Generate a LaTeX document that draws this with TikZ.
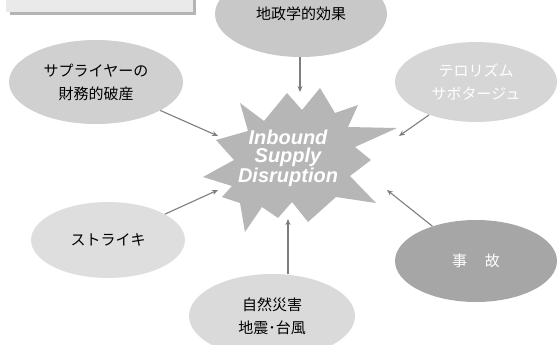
\documentclass[tikz,border=0pt]{standalone}
\usepackage{fontspec}
\setmainfont{Liberation Sans}
\newfontfamily\jp{Noto Sans CJK JP}
\usetikzlibrary{arrows.meta,shapes.geometric}
\definecolor{geoC}{HTML}{C8C8C8}
\definecolor{supC}{HTML}{D0D0D0}
\definecolor{terC}{HTML}{D6D6D6}
\definecolor{strC}{HTML}{DEDEDE}
\definecolor{natC}{HTML}{DADADA}
\definecolor{accC}{HTML}{A6A6A6}
\definecolor{starC}{HTML}{B6B6B6}
\definecolor{arrC}{HTML}{7E7E7E}
\definecolor{boxC}{HTML}{EAEAEA}
\definecolor{shadC}{HTML}{B4B4B4}
\tikzset{
  bubble/.style={ellipse, inner sep=0pt, align=center,
    font=\jp\fontsize{15}{23}\selectfont},
  arr/.style={draw=arrC, line width=1.1pt, -{Stealth[length=6pt,width=5pt]}},
}
\begin{document}
\begin{tikzpicture}[x=1pt,y=-1pt]
\useasboundingbox (0,0) rectangle (557,345);
\clip (0,0) rectangle (557,345);
% top-left box
\fill[shadC] (10,-5) rectangle (196,15);
\fill[boxC] (6,-5) rectangle (193,12.5);
% ellipses
\node[bubble, fill=geoC, minimum width=172pt, minimum height=86pt] (geo) at (301,14) {地政学的効果};
\node[bubble, fill=supC, minimum width=174pt, minimum height=84pt] (sup) at (96,82) {サプライヤーの\\財務的破産};
\node[bubble, fill=terC, minimum width=162pt, minimum height=80pt, text=white] (ter) at (476,82) {テロリズム\\サボタージュ};
\node[bubble, fill=strC, minimum width=154pt, minimum height=76pt] (str) at (108,240) {ストライキ};
\node[bubble, fill=natC, minimum width=166pt, minimum height=84pt] (nat) at (272,316) {自然災害\\地震･台風};
\node[bubble, fill=accC, minimum width=162pt, minimum height=82pt, text=white] (acc) at (476,261) {事\hspace{1.2em}故};
% star
\fill[starC] (287,93) -- (302,110) -- (320,88) -- (335,113) -- (358,105) -- (348,127)
  -- (397,128) -- (355,147) -- (371,160) -- (350,176) -- (376,203) -- (336,197)
  -- (308,222) -- (292,202) -- (278,218) -- (262,207) -- (245,232) -- (240,203)
  -- (222,197) -- (232,186) -- (203,177) -- (234,160) -- (216,140) -- (248,131)
  -- (240,103) -- (264,121) -- cycle;
\node[align=center, text=white, font=\bfseries\itshape\fontsize{20}{18.5}\selectfont, inner sep=0pt] (star) at (288,158) {Inbound\\Supply\\Disruption};
% arrow end points
\coordinate (eGeo) at (300,92);
\coordinate (eSup) at (218,136);
\coordinate (eTer) at (399,136);
\coordinate (eStr) at (218,190);
\coordinate (eNat) at (288,219);
\coordinate (eAcc) at (387,190);
% connectors
\draw[arr] (geo.south -| eGeo) -- (eGeo);
\draw[arr] (sup) -- (eSup);
\draw[arr] (ter) -- (eTer);
\draw[arr] (str) -- (eStr);
\draw[arr] (nat.north -| eNat) -- (eNat);
\draw[arr] (acc) -- (eAcc);
\end{tikzpicture}
\end{document}
